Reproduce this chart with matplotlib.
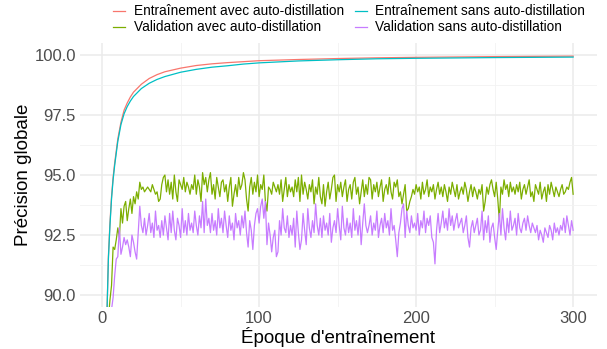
import matplotlib
matplotlib.use('Agg')
import matplotlib.pyplot as plt
import numpy as np

# Configurações de plot:
plt.rcParams['font.family'] = ['Liberation Sans', 'DejaVu Sans']

# Courbes d'entraînement (lisses, échantillonnées)
epoques_train = [1, 2, 3, 4, 5, 6, 7, 8, 9, 10, 12, 14, 16, 18, 20, 25, 30, 35, 40,
                 50, 60, 70, 80, 90, 100, 125, 150, 175, 200, 250, 300]
train_avec = [75.0, 84.0, 89.0, 91.6, 93.0, 94.1, 94.9, 95.5, 96.0, 96.5, 97.2, 97.7,
              98.0, 98.25, 98.45, 98.78, 99.02, 99.18, 99.3, 99.45, 99.56, 99.63,
              99.68, 99.72, 99.76, 99.81, 99.85, 99.88, 99.9, 99.93, 99.95]
train_sans = [75.0, 84.0, 89.0, 91.5, 92.9, 94.0, 94.8, 95.4, 95.9, 96.4, 97.1, 97.55,
              97.85, 98.08, 98.27, 98.6, 98.82, 98.98, 99.1, 99.28, 99.4, 99.49,
              99.55, 99.62, 99.67, 99.75, 99.8, 99.84, 99.86, 99.89, 99.91]

# Courbes de validation (une valeur par époque, 1..300)
val_avec = [
    80.0, 85.5, 88.2, 89.0, 89.8, 90.4, 92.0, 91.9, 92.3, 92.8,
    92.4, 93.6, 93.0, 93.7, 93.9, 93.1, 93.6, 94.0, 93.4, 94.1,
    93.8, 94.3, 94.0, 94.7, 94.4, 94.5, 94.3, 94.4, 94.5, 94.4,
    94.3, 94.6, 94.4, 94.2, 94.3, 93.9, 94.0, 94.6, 94.9, 95.0,
    94.3, 94.8, 94.2, 94.7, 94.0, 95.0, 94.3, 93.9, 94.8, 94.6,
    94.4, 94.9, 94.3, 94.7, 94.5, 94.2, 94.6, 94.4, 95.0, 94.2,
    94.8, 94.5, 93.9, 95.1, 94.6, 94.9, 94.3, 94.8, 95.1, 94.2,
    94.6, 94.0, 94.9, 94.5, 94.1, 94.7, 94.8, 94.3, 94.6, 93.9,
    94.5, 94.9, 93.7, 94.2, 94.6, 94.1, 94.9, 94.4, 94.6, 95.1,
    94.8, 94.0, 93.5, 94.5, 94.9, 94.2, 94.7, 94.3, 95.0, 94.1,
    94.6, 94.4, 95.0, 93.9, 93.5, 94.5, 94.4, 94.2, 94.7, 94.5,
    94.3, 94.6, 94.2, 94.8, 93.9, 94.4, 94.9, 94.1, 94.6, 94.3,
    94.5, 94.1, 94.8, 94.3, 94.9, 93.9, 95.0, 94.2, 94.7, 94.4,
    94.0, 94.6, 94.3, 94.8, 93.8, 94.5, 94.2, 94.9, 94.1, 93.8,
    94.6, 93.7, 94.3, 94.7, 94.0, 94.4, 94.9, 95.0, 93.9, 94.6,
    94.3, 94.7, 94.1, 94.5, 94.8, 93.9, 94.4, 94.6, 94.0, 94.7,
    94.9, 94.2, 94.5, 93.8, 94.3, 94.8, 94.1, 94.6, 94.2, 94.9,
    94.8, 94.0, 94.6, 94.3, 94.7, 94.1, 94.5, 94.8, 93.9, 94.4,
    94.6, 94.2, 94.9, 94.3, 94.0, 94.7, 94.5, 94.8, 94.1, 94.3,
    93.8, 94.2, 94.6, 93.5, 93.6, 93.9, 94.1, 94.4, 94.2, 94.6,
    94.3, 94.5, 94.0, 94.7, 94.2, 94.4, 94.8, 94.1, 94.5, 94.3,
    94.6, 94.0, 94.4, 94.7, 94.2, 94.5, 94.1, 94.6, 94.3, 93.9,
    94.5, 94.2, 94.7, 94.4, 94.1, 94.6, 94.0, 94.3, 94.5, 94.2,
    94.7, 94.4, 93.9, 94.3, 94.6, 94.1, 94.5, 94.3, 94.0, 94.4,
    94.2, 94.6, 93.5, 93.9, 94.5, 94.2, 94.6, 94.8, 94.4, 94.1,
    94.7, 94.0, 93.1, 94.5, 94.2, 94.8, 94.4, 94.6, 94.1, 94.7,
    94.3, 94.5, 94.2, 94.6, 94.3, 94.7, 94.0, 94.4, 94.6, 94.2,
    94.5, 94.8, 94.1, 94.3, 93.9, 94.6, 94.4, 94.2, 94.7, 94.0,
    94.3, 94.5, 93.9, 94.6, 94.2, 94.7, 94.4, 94.1, 94.5, 94.3,
    94.1, 94.4, 94.6, 94.2, 94.3, 94.5, 94.4, 94.7, 94.9, 94.2,
]
val_sans = [
    78.0, 84.0, 87.0, 88.5, 89.0, 89.4, 89.9, 90.8, 91.5, 91.6,
    92.8, 91.7, 92.0, 92.4, 92.1, 92.3, 92.0, 91.6, 92.5, 92.2,
    91.8, 91.5, 92.6, 93.7, 92.9, 92.6, 93.2, 92.5, 92.9, 93.4,
    92.6, 93.0, 92.4, 93.5, 92.7, 92.9, 92.4, 93.1, 92.5, 93.3,
    92.8, 92.3, 93.4, 92.6, 93.5, 92.7, 92.3, 93.2, 92.9, 92.4,
    93.6, 92.6, 93.1, 92.5, 93.4, 92.7, 93.0, 92.6, 93.5, 92.9,
    92.5, 93.3, 92.8, 93.9, 92.6, 94.0, 92.9, 93.2, 92.6, 93.4,
    92.7, 93.1, 92.5, 93.6, 92.8, 93.2, 92.6, 93.5, 92.9, 92.4,
    93.3, 92.7, 93.0, 92.3, 93.4, 92.8, 93.1, 92.5, 93.3, 92.8,
    93.5, 92.6, 92.0, 93.1, 92.7, 91.9, 92.9, 93.4, 93.6, 93.0,
    93.7, 94.0, 93.2, 93.9, 92.1, 93.0, 92.5, 91.8, 92.4, 92.7,
    91.6, 91.8, 93.1, 92.5, 93.6, 92.8, 92.6, 93.3, 92.4, 92.9,
    92.5, 93.2, 92.0, 93.5, 92.6, 91.9, 92.3, 93.4, 92.7, 92.1,
    93.6, 92.8, 92.4, 93.1, 92.6, 93.8, 92.9, 92.5, 93.2, 92.4,
    93.3, 92.7, 93.0, 92.5, 93.4, 92.2, 92.8, 93.1, 92.6, 93.6,
    92.9, 92.3, 93.7, 92.8, 92.5, 93.2, 92.6, 93.0, 92.4, 93.6,
    92.7, 93.1, 92.5, 93.3, 92.1, 93.0, 93.8, 92.9, 92.6, 92.9,
    93.3, 92.5, 93.0, 92.7, 93.5, 92.4, 92.9, 93.2, 92.6, 93.4,
    92.8, 93.1, 92.5, 93.6, 92.7, 92.9, 92.3, 91.6, 92.6, 93.0,
    93.6, 93.8, 92.4, 93.5, 92.9, 92.6, 93.3, 92.8, 93.0, 92.7,
    93.4, 92.5, 93.1, 92.8, 93.5, 92.6, 93.2, 92.9, 93.3, 92.4,
    92.2, 91.3, 92.7, 93.4, 92.6, 93.0, 93.5, 92.8, 93.2, 92.7,
    93.6, 92.9, 93.3, 92.7, 93.1, 93.4, 92.8, 93.0, 93.2, 92.6,
    92.9, 93.3, 92.4, 92.0, 92.8, 93.1, 92.6, 92.9, 93.2, 92.5,
    92.7, 93.5, 92.3, 93.1, 92.6, 93.3, 92.2, 92.8, 93.0, 92.4,
    91.9, 92.7, 93.4, 92.5, 93.6, 92.8, 92.3, 93.2, 92.6, 93.5,
    92.7, 92.9, 93.2, 92.5, 93.4, 92.8, 92.6, 93.0, 93.2, 92.7,
    93.3, 92.9, 92.6, 93.0, 92.8, 92.6, 92.9, 92.3, 92.7, 92.5,
    92.2, 92.8, 92.6, 92.4, 92.9, 92.7, 92.3, 93.0, 92.6, 92.8,
    92.5, 92.9, 92.7, 93.2, 92.6, 93.3, 92.9, 92.5, 93.1, 92.7,
]
epoques_val = np.arange(1, len(val_avec) + 1)

noms = ['Entraînement avec auto-distillation', 'Validation avec auto-distillation',
        'Entraînement sans auto-distillation', 'Validation sans auto-distillation']
couleurs = ['#F8766D', '#7CAE00', '#00BFC4', '#C77CFF']

# Plot du graphique:
fig = plt.figure(figsize=(6.07, 3.49), dpi=100)
ax = fig.add_axes([0.132, 0.12, 0.851, 0.757])

series = [(epoques_train, train_avec), (epoques_val, val_avec),
          (epoques_train, train_sans), (epoques_val, val_sans)]
handles = []
for (x, y), nom, c in zip(series, noms, couleurs):
    h, = ax.plot(x, y, color=c, lw=0.9, label=nom)
    handles.append(h)

ax.set_xlim(-14, 315)
ax.set_ylim(89.5, 100.5)
ax.set_xticks([0, 100, 200, 300])
ax.set_xticks([50, 150, 250], minor=True)
ax.set_yticks([90, 92.5, 95, 97.5, 100])
ax.set_yticklabels(['90.0', '92.5', '95.0', '97.5', '100.0'])
ax.set_yticks([91.25, 93.75, 96.25, 98.75], minor=True)
ax.grid(which='major', color='#EBEBEB', lw=1.1)
ax.grid(which='minor', color='#F2F2F2', lw=0.6)
ax.set_axisbelow(True)
for s in ax.spines.values():
    s.set_visible(False)
ax.tick_params(which='both', length=0, labelsize=12, labelcolor='#4D4D4D')
ax.tick_params(axis='x', pad=3)
ax.tick_params(axis='y', pad=3)
ax.set_xlabel("Époque d'entraînement", fontsize=13.5, labelpad=0.5)
ax.set_ylabel('Précision globale', fontsize=13.5, labelpad=2)

fig.legend(handles=handles, ncol=2, loc='upper center', bbox_to_anchor=(0.575, 1.003),
           frameon=False, fontsize=9.8, handlelength=0.9, handletextpad=0.6,
           columnspacing=0.8, labelspacing=0.15, borderaxespad=0)

fig.savefig('out.png', dpi=100)
